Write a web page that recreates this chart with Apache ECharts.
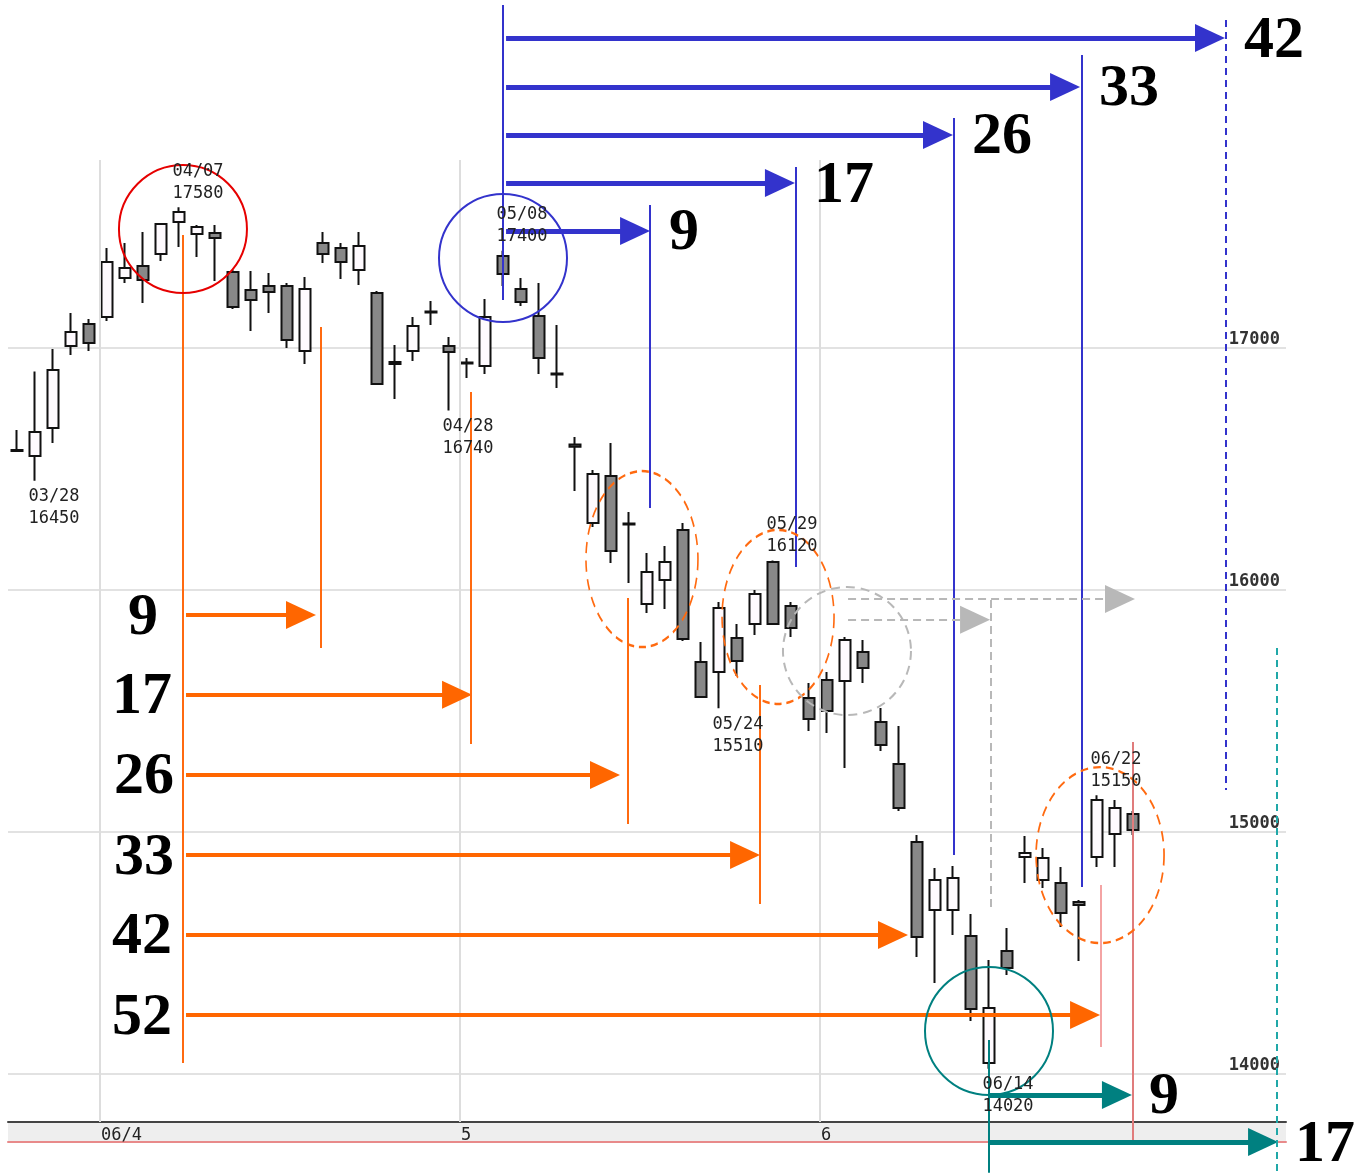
<!DOCTYPE html>
<html>
<head>
<meta charset="utf-8">
<title>日柄</title>
<script src="https://cdn.jsdelivr.net/npm/echarts@6/dist/echarts.min.js"></script>
<style>html,body{margin:0;padding:0;background:#fff;overflow:hidden}</style>
</head>
<body>
<div id="main" style="width:1360px;height:1174px;"></div>
<script type="text/javascript">
// trading days shown on the chart (2006)
var dates = ['03/27','03/28','03/29','03/30','03/31',
  '04/03','04/04','04/05','04/06','04/07','04/10','04/11','04/12','04/13','04/14',
  '04/17','04/18','04/19','04/20','04/21','04/24','04/25','04/26','04/27','04/28',
  '05/01','05/02','05/08','05/09','05/10','05/11','05/12','05/15','05/16','05/17','05/18','05/19',
  '05/22','05/23','05/24','05/25','05/26','05/29','05/30','05/31',
  '06/01','06/02','06/05','06/06','06/07','06/08','06/09','06/12','06/13','06/14','06/15','06/16',
  '06/19','06/20','06/21','06/22','06/23','06/26'];
var openV  = [16577,16552,16668,17007,17098,17126,17288,17337,17387,17519,17469,17474,17312,17238,17255,
  17255,16986,17432,17412,17321,17226,16940,16986,17149,17007,16938,16924,17379,17242,17131,16893,16600,
  16275,16469,16273,15940,16040,16246,15701,15659,15800,15858,16114,15932,15552,15626,15622,15742,15453,
  15279,14957,14676,14676,14569,14044,14507,14895,14800,14788,14709,14895,14990,15073];
var closeV = [16573,16651,16907,17064,17019,17354,17329,17279,17511,17560,17498,17453,17168,17197,17230,
  17031,17242,17387,17354,17420,16850,16932,17089,17145,16982,16934,17126,17304,17188,16957,16889,16590,
  16478,16160,16269,16073,16114,15796,15556,15924,15705,15982,15858,15841,15465,15498,15792,15676,15358,
  15098,14564,14800,14808,14267,14271,14436,14912,14891,14664,14697,15131,15098,15007];
var lowV   = [16570,16450,16606,16969,16986,17110,17267,17184,17358,17416,17374,17275,17160,17069,17143,
  16998,16932,17350,17283,17259,16845,16788,16945,17093,16740,16874,16891,17255,17172,16891,16833,16407,
  16259,16110,16027,15903,15920,15788,15556,15510,15643,15812,15854,15804,15416,15407,15263,15614,15333,
  15085,14482,14374,14573,14217,14020,14407,14788,14767,14606,14465,14854,14854,14986];
var highV  = [16660,16901,16994,17143,17118,17412,17432,17478,17515,17580,17507,17507,17321,17317,17308,
  17267,17292,17478,17432,17478,17234,17011,17126,17193,17044,16957,17201,17400,17288,17267,17093,16631,
  16494,16606,16321,16151,16180,16275,15783,15949,15858,15998,16120,15949,15614,15659,15804,15792,15511,
  15436,14986,14850,14858,14660,14469,14602,14982,14932,14854,14717,15150,15131,15085];
var emptySlots = 8;
var monthLabels = {4: '06/4', 24: '5', 44: '6'};
var monthEdges = [4.6, 24.6, 44.6];
var yTicks = [14000, 15000, 16000, 17000];
// turning points labelled with date and price
var turns = [[1,'low'],[9,'high'],[24,'low'],[27,'high'],[39,'low'],[42,'high'],[54,'low'],[60,'high']];

// day-count guides, x in candle slots, y in yen
var blueFrom = 27.17;
var blueTips = [67.11, 59.06, 52.0, 43.22, 35.17];
var blueLevels = [18279, 18077, 17879, 17680, 17482];
var blueCounts = ['42', '33', '26', '17', '9'];
var blueDrops = [[27.0,18416,17197],[35.17,17589,16337],[43.28,17746,16093],[52.06,17949,14903],[59.17,18209,14771]];
var blueDashed = [67.17, 18354, 15172];

var orangeFrom = 9.39;
var orangeTips = [16.61, 25.28, 33.5, 41.28, 49.5, 60.17];
var orangeLevels = [15895, 15565, 15234, 14903, 14573, 14242];
var orangeCounts = ['9', '17', '26', '33', '42', '52'];
var orangeDrops = [[9.22,17465,14044],[16.89,17085,15759],[25.22,16817,15362],[33.94,15965,15031],[41.28,15606,14701]];
var pinkDrops = [[60.22,14779,14110,'#f4a4a4'],[62.0,15370,13717,'#e07c7c']];

var grayFrom = 46.17;
var grayArrows = [[15961, 62.11], [15875, 54.06]];
var grayDrop = [54.11, 15957, 14676];

var tealFrom = 54.0;
var tealArrows = [[13912, 61.94, '9'], [13717, 70.06, '17']];
var tealDrop = [54.0, 14139, 13590];
var tealDashed = [70.0, 15759, 13590];

var rings = [ // x, y, w, h, colour, dashed
  [9.22, 17490, 128, 128, '#e60000', false],
  [27.0, 17370, 128, 128, '#3333cc', false],
  [34.72, 16126, 112, 176, '#ff6a10', true],
  [42.28, 15887, 112, 174, '#ff6a10', true],
  [60.17, 14903, 128, 176, '#ff6a10', true],
  [46.11, 15746, 128, 128, '#b8b8b8', true],
  [54.0, 14176, 128, 128, '#008080', false]
];

// layout of the price pane
var SLOT = 18, LEFT = 8, TOP = 154, H = 968, YMIN = 13800, YMAX = 17800;
var PX = H / (YMAX - YMIN);
var W = 1360, HT = 1174;
var HEAD = 15 / SLOT;

var cats = dates.slice();
for (var k = 1; k <= emptySlots; k++) cats.push('x' + k);
var candles = dates.map(function (d, i) { return [openV[i], closeV[i], lowV[i], highV[i]]; });

var mono = 'DejaVu Sans Mono';
var big = {show: true, color: '#000', fontFamily: 'Liberation Serif', fontWeight: 'bold', fontSize: 60};

function line(x1, y1, x2, y2, color, w, dash) {
  return [
    {coord: [x1, y1], symbol: 'none', lineStyle: {color: color, width: w, type: dash || 'solid'}},
    {coord: [x2, y2], symbol: 'none'}
  ];
}
function arrow(x1, y, tip, color, w, text, pos, dist, dash) {
  var lab = text ? Object.assign({position: pos, distance: dist, formatter: text, offset: [0, 3]}, big) : {show: false};
  return [
    {coord: [x1, y], symbol: 'none', lineStyle: {color: color, width: w, type: dash || 'solid'}, label: lab},
    {coord: [tip - HEAD, y], symbol: 'triangle', symbolSize: [28, 30]}
  ];
}

var guides = [];
blueTips.forEach(function (t, i) {
  guides.push(arrow(blueFrom, blueLevels[i], t, '#3333cc', 5, blueCounts[i], 'end', 34));
});
blueDrops.forEach(function (d) { guides.push(line(d[0], d[1], d[0], d[2], '#3333cc', 2)); });
guides.push(line(blueDashed[0], blueDashed[1], blueDashed[0], blueDashed[2], '#3333cc', 2, [7, 5]));
var orangeDist = [28, 14, 12, 12, 14, 14];
orangeTips.forEach(function (t, i) {
  guides.push(arrow(orangeFrom, orangeLevels[i], t, '#ff6600', 4, orangeCounts[i], 'start', orangeDist[i]));
});
orangeDrops.forEach(function (d) { guides.push(line(d[0], d[1], d[0], d[2], '#ff6a10', 2)); });
pinkDrops.forEach(function (d) { guides.push(line(d[0], d[1], d[0], d[2], d[3], 2)); });
grayArrows.forEach(function (g) { guides.push(arrow(grayFrom, g[0], g[1], '#b8b8b8', 2, null, null, 0, [8, 5])); });
guides.push(line(grayDrop[0], grayDrop[1], grayDrop[0], grayDrop[2], '#b8b8b8', 2, [8, 5]));
guides.push(line(tealDrop[0], tealDrop[1], tealDrop[0], tealDrop[2], '#008080', 2));
tealArrows.forEach(function (a) { guides.push(arrow(tealFrom, a[0], a[1], '#008080', 5, a[2], 'end', 32)); });
guides.push(line(tealDashed[0], tealDashed[1], tealDashed[0], tealDashed[2], '#20a8a8', 2, [7, 5]));

var monthLines = monthEdges.map(function (x) { return line(x, 17775, x, YMIN, '#dddddd', 2); });

var ringMarks = rings.map(function (r) {
  return {coord: [r[0], r[1]], symbol: 'circle', symbolSize: [r[2], r[3]],
    itemStyle: {color: 'rgba(0,0,0,0)', borderColor: r[4], borderWidth: 2, borderType: r[5] ? [9, 6] : 'solid'}};
});

var turnMarks = turns.map(function (t) {
  var i = t[0], hi = t[1] === 'high', v = hi ? highV[i] : lowV[i];
  return {coord: [dates[i], v], value: v,
    label: {position: hi ? 'top' : 'bottom', distance: hi ? 3 : 5, offset: [19, 0],
      formatter: dates[i] + '\n' + v}};
});

var chart = echarts.init(document.getElementById('main'));
chart.setOption({
  animation: false,
  backgroundColor: '#fff',
  grid: [
    {left: LEFT, top: TOP, width: SLOT * cats.length, height: H, outerBoundsMode: 'none', containLabel: false},
    {left: LEFT, top: TOP + H, width: SLOT * cats.length, height: 20, show: true, backgroundColor: '#eeeeee',
      borderWidth: 0, outerBoundsMode: 'none', containLabel: false},
    {left: 0, top: 0, width: W, height: HT, outerBoundsMode: 'none', containLabel: false}
  ],
  xAxis: [
    {type: 'category', gridIndex: 0, data: cats, boundaryGap: true,
      axisLine: {show: true, lineStyle: {color: '#444', width: 2}},
      axisTick: {show: false},
      axisLabel: {interval: 0, align: 'left', padding: [0, 0, 0, 12], margin: 5,
        fontFamily: mono, fontSize: 17, color: '#222',
        formatter: function (v, i) { return monthLabels[i] || ''; }},
      splitLine: {show: false}},
    {type: 'category', gridIndex: 1, data: cats, boundaryGap: true,
      axisLine: {show: true, lineStyle: {color: '#e88a8a', width: 2}},
      axisTick: {show: false}, axisLabel: {show: false}, splitLine: {show: false}},
    {type: 'value', gridIndex: 2, show: false,
      min: -(LEFT + SLOT / 2) / SLOT, max: (W - LEFT - SLOT / 2) / SLOT}
  ],
  yAxis: [
    {type: 'value', gridIndex: 0, position: 'right', min: YMIN, max: YMAX, scale: true,
      axisLine: {show: false},
      axisTick: {show: false, customValues: yTicks},
      axisLabel: {inside: true, margin: 6, customValues: yTicks, verticalAlign: 'bottom',
        fontFamily: mono, fontWeight: 'bold', fontSize: 17, color: '#333',
        formatter: function (v) { return String(v); }},
      splitLine: {show: true, lineStyle: {color: '#e2e2e2', width: 2}}},
    {type: 'value', gridIndex: 1, show: false},
    {type: 'value', gridIndex: 2, show: false,
      min: YMIN - (HT - TOP - H) / PX, max: YMAX + TOP / PX}
  ],
  series: [
    {type: 'scatter', xAxisIndex: 2, yAxisIndex: 2, data: [[0, 15000]], symbolSize: 0, silent: true, z: 1,
      markLine: {silent: true, symbol: ['none', 'none'], label: {show: false}, data: monthLines}},
    {type: 'candlestick', xAxisIndex: 0, yAxisIndex: 0, data: candles, barWidth: 12, z: 2,
      itemStyle: {color: '#fefafe', color0: '#888888', borderColor: '#111', borderColor0: '#111', borderWidth: 2},
      markPoint: {symbol: 'circle', symbolSize: 0, silent: true,
        label: {show: true, fontFamily: mono, fontSize: 17, lineHeight: 22, color: '#222'},
        data: turnMarks}},
    {type: 'scatter', xAxisIndex: 2, yAxisIndex: 2, data: [[0, 15000]], symbolSize: 0, silent: true, z: 5,
      markLine: {silent: true, symbol: ['none', 'none'], label: {show: false}, data: guides},
      markPoint: {silent: true, label: {show: false}, data: ringMarks}}
  ]
});
</script>
</body>
</html>
